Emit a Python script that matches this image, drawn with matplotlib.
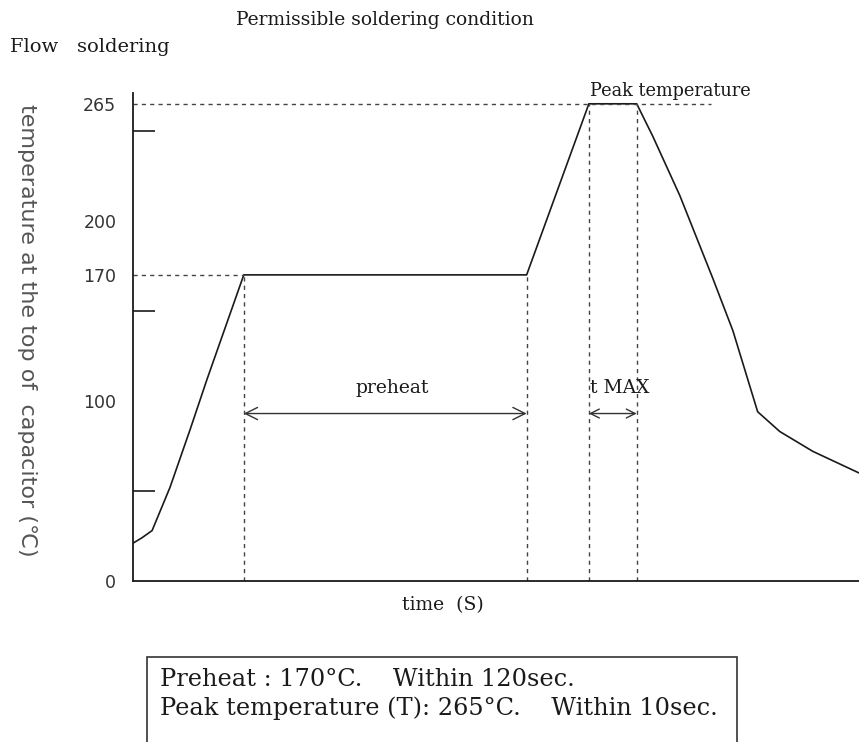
import matplotlib
matplotlib.use("Agg")
import matplotlib.pyplot as plt
from matplotlib.patches import Rectangle

# temperature profile (time in s, temperature in degC)
time_s = [0, 3.8, 8.1, 15.7, 24.2, 31.4, 47, 167, 193.4, 213.7, 220.5, 232, 246, 254.5, 265, 274.4, 288.4, 308]
temp_c = [21, 24, 28, 52, 84, 112, 170, 170, 265, 265, 247, 214, 168, 139, 94, 83, 72, 60]

preheat_temp = 170
peak_temp = 265
preheat_window = [47, 167]
peak_window = [193.4, 213.7]

label_ticks = [0, 100, 170, 200, 265]
mark_ticks = [50, 100, 150, 200, 250]

serif = ['DejaVu Serif']
sans = ['Liberation Sans Narrow', 'DejaVu Sans']
ink = '#1a1a1a'
dash = (0, (3, 3))

fig = plt.figure(figsize=(8.59, 7.42), dpi=100)
ax = fig.add_axes([133 / 859, 161 / 742, 1 - 133 / 859, 488 / 742])

ax.plot(time_s, temp_c, color=ink, lw=1.2, solid_joinstyle='round')

# guide lines
ax.plot([0, 245], [peak_temp, peak_temp], color='#444444', lw=1.0, ls=dash)
ax.plot([0, preheat_window[0]], [preheat_temp, preheat_temp], color='#444444', lw=1.0, ls=dash)
for t in preheat_window:
    ax.plot([t, t], [0, preheat_temp], color='#444444', lw=1.0, ls=dash)
for t in peak_window:
    ax.plot([t, t], [0, peak_temp], color='#444444', lw=1.0, ls=dash)

arrow_y = 93
ax.annotate('', xy=(preheat_window[0], arrow_y), xytext=(preheat_window[1], arrow_y),
            arrowprops=dict(arrowstyle='<->', color='#333333', lw=1.0, shrinkA=0, shrinkB=0,
                            mutation_scale=22))
ax.annotate('', xy=(peak_window[0], arrow_y), xytext=(peak_window[1], arrow_y),
            arrowprops=dict(arrowstyle='<->', color='#333333', lw=1.0, shrinkA=0, shrinkB=0,
                            mutation_scale=16))
ax.text(110, 102, 'preheat', family=serif, fontsize=13.5, ha='center', va='bottom', color=ink)
ax.text(peak_window[0] + 0.3, 102, 't MAX', family=serif, fontsize=13.5, ha='left', va='bottom', color=ink)
ax.text(193.8, 267, 'Peak temperature', family=serif, fontsize=12.8, ha='left', va='bottom', color=ink)

ax.set_xlim(0, 308)
ax.set_ylim(0, 271)
for side in ['top', 'right']:
    ax.spines[side].set_visible(False)
for side in ['left', 'bottom']:
    ax.spines[side].set_color(ink)
    ax.spines[side].set_linewidth(1.3)

ax.set_xticks([])
ax.set_yticks(label_ticks)
ax.set_yticklabels([str(v) for v in label_ticks], family=sans, fontsize=12.5, color='#333333')
ax.tick_params(axis='y', which='major', length=0, pad=12)
ax.set_yticks(mark_ticks, minor=True)
ax.tick_params(axis='y', which='minor', direction='in', length=16, width=1.2, color=ink)

ax.set_xlabel('time  (S)', family=serif, fontsize=13.5, color=ink)
ax.xaxis.label.set_va('center')
ax.xaxis.set_label_coords((443 - 133) / 726, -24 / 488)
ax.set_ylabel('temperature at the top of  capacitor (\u2103)', family=sans, fontsize=16,
              rotation=270, color='#555555')
ax.yaxis.label.set_va('center')
ax.yaxis.set_label_coords(-106 / 726, (581 - 330) / 488)

fig.text(385 / 859, 1 - 20 / 742, 'Permissible soldering condition', family=serif,
         fontsize=13.5, ha='center', va='center', color=ink)
fig.text(10 / 859, 1 - 47 / 742, 'Flow   soldering', family=serif, fontsize=14,
         ha='left', va='center', color=ink)

# condition box at the bottom
fig.patches.append(Rectangle((147 / 859, -0.05), (737 - 147) / 859, 0.05 + 85 / 742,
                             transform=fig.transFigure, fill=False, ec='#333333', lw=1.2))
fig.text(160 / 859, 1 - 680 / 742, 'Preheat : 170\u00b0C.    Within 120sec.', family=serif,
         fontsize=17.3, ha='left', va='center', color=ink)
fig.text(160 / 859, 1 - 708 / 742, 'Peak temperature (T): 265\u00b0C.    Within 10sec.', family=serif,
         fontsize=17.3, ha='left', va='center', color=ink)

fig.savefig('out.png', dpi=100, facecolor='white')
